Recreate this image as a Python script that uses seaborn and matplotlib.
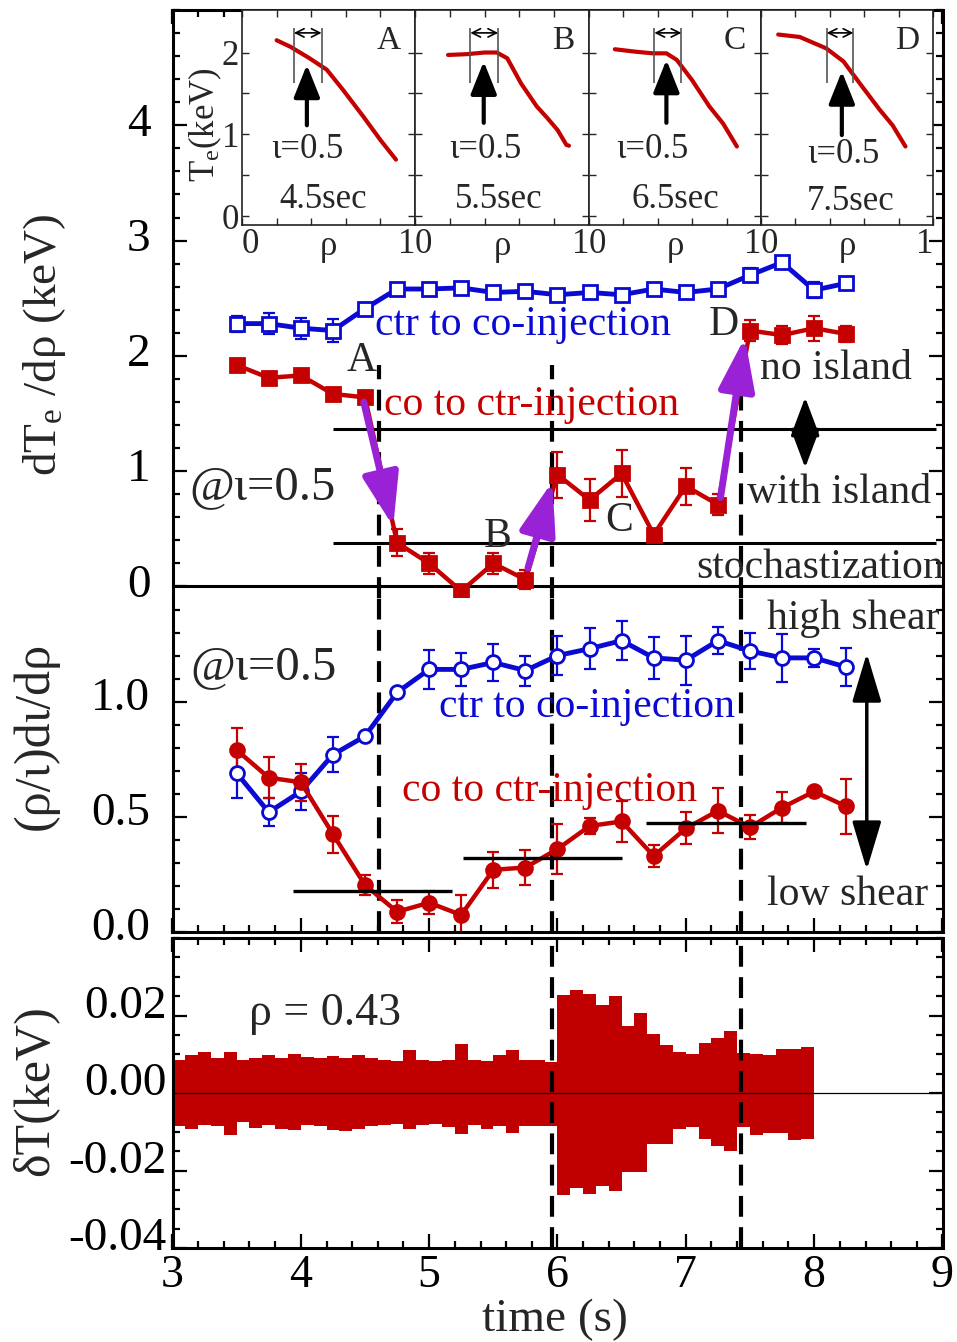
import numpy as np
import matplotlib
matplotlib.use("Agg")
import matplotlib.pyplot as plt
import matplotlib.transforms as mtransforms
from matplotlib.ticker import MultipleLocator, FixedLocator
import seaborn as sns

# ---------------- data ----------------
times = [3.5, 3.75, 4.0, 4.25, 4.5, 4.75, 5.0, 5.25, 5.5, 5.75,
         6.0, 6.25, 6.5, 6.75, 7.0, 7.25, 7.5, 7.75, 8.0, 8.25]

grad_ctr_co = [2.28, 2.28, 2.24, 2.22, 2.41, 2.58, 2.58, 2.59, 2.55, 2.56,
               2.53, 2.55, 2.53, 2.58, 2.55, 2.58, 2.70, 2.81, 2.57, 2.63]
grad_ctr_co_err = [0.07, 0.09, 0.09, 0.10, 0.05, 0.03, 0.05, 0.03, 0.02, 0.02,
                   0.02, 0.02, 0.02, 0.02, 0.02, 0.02, 0.06, 0.03, 0.07, 0.05]
grad_co_ctr = [1.92, 1.81, 1.83, 1.67, 1.64, 0.38, 0.20, -0.04, 0.20, 0.06,
               0.97, 0.75, 0.98, 0.45, 0.87, 0.71, 2.22, 2.18, 2.24, 2.19]
grad_co_ctr_err = [0.02, 0.02, 0.02, 0.02, 0.02, 0.12, 0.09, 0.03, 0.09, 0.08,
                   0.20, 0.18, 0.20, 0.04, 0.16, 0.09, 0.09, 0.08, 0.11, 0.07]

shear_ctr_co = [0.69, 0.52, 0.61, 0.77, 0.85, 1.04, 1.14, 1.14, 1.17, 1.135,
                1.20, 1.23, 1.265, 1.19, 1.18, 1.265, 1.22, 1.19, 1.19, 1.15]
shear_ctr_co_err = [0.11, 0.06, 0.08, 0.075, 0.0, 0.0, 0.083, 0.07, 0.08, 0.065,
                    0.083, 0.09, 0.083, 0.09, 0.107, 0.058, 0.078, 0.105, 0.04, 0.082]
shear_co_ctr = [0.79, 0.67, 0.65, 0.425, 0.204, 0.088, 0.127, 0.074, 0.27, 0.28,
                0.36, 0.46, 0.48, 0.33, 0.45, 0.526, 0.455, 0.54, 0.61, 0.545]
shear_co_ctr_err = [0.094, 0.09, 0.08, 0.08, 0.045, 0.05, 0.05, 0.085, 0.078, 0.078,
                    0.11, 0.035, 0.09, 0.047, 0.07, 0.098, 0.053, 0.067, 0.0, 0.12]

# island thresholds (top) and shear levels (middle)
grad_levels = [1.37, 0.38]
grad_levels_span = [4.25, 8.95]
shear_level_start = [3.94, 5.26, 6.69]
shear_level_end = [5.18, 6.50, 7.94]
shear_level_value = [0.178, 0.32, 0.475]
event_times = [4.61, 5.96, 7.43]

# delta T envelope, 0.1 s bins from 3.0 s
env_t = [3.0, 3.1, 3.2, 3.3, 3.4, 3.5, 3.6, 3.7, 3.8, 3.9,
         4.0, 4.1, 4.2, 4.3, 4.4, 4.5, 4.6, 4.7, 4.8, 4.9,
         5.0, 5.1, 5.2, 5.3, 5.4, 5.5, 5.6, 5.7, 5.8, 5.9,
         6.0, 6.1, 6.2, 6.3, 6.4, 6.5, 6.6, 6.7, 6.8, 6.9,
         7.0, 7.1, 7.2, 7.3, 7.4, 7.5, 7.6, 7.7, 7.8, 7.9, 8.0]
env_upper = [.0084, .0099, .0106, .0090, .0106, .0084, .0090, .0099, .0090, .0101,
             .0092, .0090, .0095, .0090, .0099, .0090, .0084, .0082, .0112, .0084,
             .0082, .0084, .0127, .0086, .0082, .0099, .0110, .0086, .0086, .0080,
             .0253, .0266, .0255, .0228, .0250, .0174, .0207, .0153, .0123, .0106,
             .0100, .0129, .0142, .0159, .0104, .0100, .0097, .0114, .0114, .0120, .0120]
env_lower = [-.0085, -.0094, -.0082, -.0085, -.0109, -.0076, -.0091, -.0082, -.0094, -.0095,
             -.0082, -.0085, -.0095, -.0098, -.0092, -.0085, -.0082, -.0080, -.0092, -.0083,
             -.0080, -.0089, -.0105, -.0082, -.0092, -.0085, -.0104, -.0085, -.0085, -.0086,
             -.0262, -.0245, -.0260, -.0240, -.0253, -.0203, -.0203, -.0131, -.0132, -.0093,
             -.0089, -.0119, -.0138, -.0149, -.0089, -.0108, -.0103, -.0103, -.0121, -.0119, -.0119]

# Te profiles of the insets
rho_A = [0.20, 0.28, 0.39, 0.49, 0.585, 0.70, 0.80, 0.89]
te_A = [2.15, 2.07, 1.93, 1.79, 1.54, 1.22, 0.93, 0.69]
rho_B = [0.19, 0.30, 0.40, 0.47, 0.53, 0.61, 0.70, 0.76, 0.82, 0.87, 0.885]
te_B = [1.97, 1.98, 2.00, 2.00, 1.93, 1.62, 1.34, 1.20, 1.05, 0.87, 0.86]
rho_C = [0.15, 0.27, 0.37, 0.45, 0.51, 0.60, 0.70, 0.78, 0.86]
te_C = [2.04, 2.01, 1.99, 1.99, 1.91, 1.66, 1.34, 1.13, 0.85]
rho_D = [0.10, 0.225, 0.38, 0.48, 0.575, 0.69, 0.765, 0.84]
te_D = [2.22, 2.19, 2.05, 1.89, 1.62, 1.30, 1.11, 0.85]
inset_letters = ["A", "B", "C", "D"]
inset_times = ["4.5sec", "5.5sec", "6.5sec", "7.5sec"]
iota_rho = [0.375, 0.395, 0.45, 0.47]
island_left = [0.30, 0.318, 0.38, 0.382]
island_right = [0.46, 0.478, 0.537, 0.537]

# ---------------- style ----------------
sns.set_style("ticks")
plt.rcParams["font.family"] = ["Liberation Serif", "DejaVu Serif"]
plt.rcParams["mathtext.fontset"] = "custom"
plt.rcParams["mathtext.rm"] = "Liberation Serif"
plt.rcParams["mathtext.it"] = "Liberation Serif:italic"
plt.rcParams["mathtext.bf"] = "Liberation Serif:bold"

BLUE = "#0a0ad2"
RED = "#c40000"
PURPLE = "#9a22d6"

W, H = 957, 1342
fig = plt.figure(figsize=(W / 100, H / 100), dpi=100)


def px_axes(x0, y0, x1, y1):
    return fig.add_axes([x0 / W, 1 - y1 / H, (x1 - x0) / W, (y1 - y0) / H])


ax_top = px_axes(172.5, 10, 942.5, 598)
ax_mid = px_axes(172.5, 598, 942.5, 932)
ax_bot = px_axes(172.5, 938, 942.5, 1248)


def style(ax):
    for s in ax.spines.values():
        s.set_linewidth(2.2)
        s.set_color("black")
    ax.tick_params(which="both", direction="in", top=True, right=True,
                   width=1.6, labelsize=34, colors="black")
    ax.tick_params(which="major", length=10)
    ax.tick_params(which="minor", length=5)
    ax.set_xlim(3, 9)
    ax.xaxis.set_major_locator(MultipleLocator(1))
    ax.xaxis.set_minor_locator(MultipleLocator(0.2))


for a in (ax_top, ax_mid, ax_bot):
    style(a)


def series(ax, y, err, color, marker, filled, lw, ms):
    ax.errorbar(times, y, yerr=err, fmt="none", ecolor=color, elinewidth=1.6,
                capsize=4, capthick=1.6, zorder=2)
    sns.lineplot(x=times, y=y, ax=ax, color=color, lw=lw, marker=marker,
                 markersize=ms, markerfacecolor=color if filled else "white",
                 markeredgecolor=color, markeredgewidth=2, zorder=3)


# ---------------- top panel ----------------
ax_top.set_ylim(-0.1, 5.0)
ax_top.yaxis.set_major_locator(FixedLocator([0, 1, 2, 3, 4]))
ax_top.yaxis.set_minor_locator(MultipleLocator(0.2))
ax_top.spines["bottom"].set_visible(False)
ax_top.tick_params(axis="x", which="both", bottom=False, labelbottom=False)
ax_top.tick_params(axis="y", pad=16)

ax_top.axhline(0, color="black", lw=2.2, zorder=1)
ax_top.hlines(grad_levels, grad_levels_span[0], grad_levels_span[1], color="black", lw=2.2, zorder=1)
for t in event_times:
    ax_top.axvline(t, ymin=0, ymax=(1.92 + 0.1) / 5.1, color="black", lw=3,
                   linestyle=(0, (5, 2.5)), zorder=1)
series(ax_top, grad_ctr_co, grad_ctr_co_err, BLUE, "s", False, 3.5, 10.5)
series(ax_top, grad_co_ctr, grad_co_ctr_err, RED, "s", True, 3.2, 10.5)

arrow_kw = dict(arrowstyle="-|>,head_length=1.6,head_width=0.55", color=PURPLE,
                lw=5, mutation_scale=20, shrinkA=0, shrinkB=0)
for (x0, y0), (x1, y1) in [((4.49, 1.60), (4.72, 0.52)),
                           ((5.77, 0.16), (5.96, 0.91)),
                           ((7.27, 0.77), (7.46, 2.16))]:
    ax_top.annotate("", xy=(x1, y1), xytext=(x0, y0), arrowprops=arrow_kw, zorder=4)

dbl_kw = dict(arrowstyle="<|-|>,head_length=1.2,head_width=0.45", color="black",
              lw=2.5, mutation_scale=20, shrinkA=0, shrinkB=0)
ax_top.annotate("", xy=(7.93, 1.03), xytext=(7.93, 1.64), arrowprops=dbl_kw)

txt = dict(fontsize=30, va="center")
ax_top.text(4.47, 1.96, "A", ha="center", **txt)
ax_top.text(5.53, 0.43, "B", ha="center", **txt)
ax_top.text(6.48, 0.57, "C", ha="center", **txt)
ax_top.text(7.295, 2.27, "D", ha="center", **txt)
ax_top.text(4.58, 2.27, "ctr to co-injection", ha="left", color=BLUE, **txt)
ax_top.text(4.645, 1.58, "co to ctr-injection", ha="left", color=RED, **txt)
ax_top.text(7.575, 1.89, "no island", ha="left", **txt)
ax_top.text(7.48, 0.81, "with island", ha="left", **txt)
ax_top.text(7.08, 0.16, "stochastization", ha="left", **txt)
ax_top.text(3.13, 0.86, "@ι=0.5", ha="left", fontsize=35, va="center")

ax_top.set_ylabel("dT$_\\mathrm{e}$ /dρ (keV)", fontsize=34, va="center")
ax_top.yaxis.set_label_coords((45 - 172.5) / 770, (598 - 345) / 588)

# ---------------- middle panel ----------------
ax_mid.set_ylim(0, 1.45)
ax_mid.yaxis.set_major_locator(FixedLocator([0, 0.5, 1.0]))
ax_mid.yaxis.set_minor_locator(MultipleLocator(0.1))
ax_mid.set_yticklabels(["0.0", "0.5", "1.0"])
ax_mid.spines["top"].set_visible(False)
ax_mid.tick_params(axis="x", which="both", top=False, labelbottom=False)
ax_mid.tick_params(axis="y", pad=16)

for t in event_times:
    ax_mid.axvline(t, color="black", lw=3, linestyle=(0, (5, 2.5)), zorder=1)
ax_mid.hlines(shear_level_value, shear_level_start, shear_level_end, color="black", lw=2.4, zorder=4)
series(ax_mid, shear_ctr_co, shear_ctr_co_err, BLUE, "o", False, 3.5, 10)
series(ax_mid, shear_co_ctr, shear_co_ctr_err, RED, "o", True, 3.2, 10)
ax_mid.annotate("", xy=(8.41, 0.27), xytext=(8.41, 1.21),
                arrowprops=dict(arrowstyle="<|-|>,head_length=1.5,head_width=0.45",
                                color="black", lw=2.5, mutation_scale=20, shrinkA=0, shrinkB=0))
ax_mid.text(3.14, 1.148, "@ι=0.5", ha="left", fontsize=35, va="center")
ax_mid.text(5.08, 0.98, "ctr to co-injection", ha="left", color=BLUE, **txt)
ax_mid.text(4.79, 0.615, "co to ctr-injection", ha="left", color=RED, **txt)
ax_mid.text(7.63, 1.36, "high shear", ha="left", **txt)
ax_mid.text(7.63, 0.16, "low shear", ha="left", **txt)

ax_mid.set_ylabel("(ρ/ι)dι/dρ", fontsize=36, va="center")
ax_mid.yaxis.set_label_coords((36 - 172.5) / 770, (932 - 736) / 334)

# ---------------- bottom panel ----------------
ax_bot.set_ylim(-0.04, 0.04)
ax_bot.yaxis.set_major_locator(FixedLocator([-0.04, -0.02, 0.0, 0.02]))
ax_bot.yaxis.set_minor_locator(MultipleLocator(0.005))
ax_bot.set_yticklabels(["-0.04", "-0.02", "0.00", "0.02"])
ax_bot.tick_params(axis="y", pad=4)
ax_bot.tick_params(axis="x", pad=5, labelsize=33)
ax_bot.fill_between(env_t, env_lower, env_upper, step="post", color="#c00000", lw=0, zorder=2)
ax_bot.axhline(0, color="black", lw=0.9, zorder=3)
for t in event_times[1:]:
    ax_bot.axvline(t, color="black", lw=3, linestyle=(0, (5, 2.5)), zorder=4)
ax_bot.text(3.6, 0.0205, "ρ = 0.43", ha="left", va="center", fontsize=33)
ax_bot.set_ylabel("δT(keV)", fontsize=36, va="center")
ax_bot.yaxis.set_label_coords((35 - 172.5) / 770, (1248 - 1091) / 310)
ax_bot.set_xlabel("time (s)", fontsize=34, va="bottom")
ax_bot.xaxis.set_label_coords(0.497, (1248 - 1341) / 310)


def shift_ylabels(ax, dy_px):
    off = mtransforms.ScaledTranslation(0, dy_px / 100.0, fig.dpi_scale_trans)
    for tick in ax.yaxis.get_major_ticks():
        tick.label1.set_transform(tick.label1.get_transform() + off)


shift_ylabels(ax_top, 6)
shift_ylabels(ax_mid, 8)
shift_ylabels(ax_bot, 14)

# ---------------- insets ----------------
inset_px = [(242, 415), (415, 589), (589, 761), (761, 933)]
profiles = [(rho_A, te_A), (rho_B, te_B), (rho_C, te_C), (rho_D, te_D)]
iota_label_y = [0.81, 0.81, 0.81, 0.75]
sec_label_y = [0.20, 0.20, 0.20, 0.18]
iota_label_x = [0.38, 0.405, 0.37, 0.477]
sec_label_x = [0.47, 0.48, 0.50, 0.52]
arrow_from = [1.11, 1.14, 1.14, 0.99]
arrow_to = [1.85, 1.89, 1.91, 1.77]

for i, (x0, x1) in enumerate(inset_px):
    ax = px_axes(x0, 10, x1, 225)
    rho, te = profiles[i]
    sns.lineplot(x=rho, y=te, ax=ax, color=RED, lw=3, sort=False)
    ax.set_xlim(0, 1)
    ax.set_ylim(-0.11, 2.52)
    for s in ax.spines.values():
        s.set_linewidth(1.2)
        s.set_color("#222222")
    ax.set_xticks([0, 0.2, 0.4, 0.6, 0.8, 1.0])
    ax.set_xticklabels(["0", "", "", "", "", "1"])
    ax.set_yticks([0, 0.5, 1.0, 1.5, 2.0])
    ax.set_yticklabels(["0", "", "1", "", "2"])
    ax.tick_params(which="both", direction="in", top=True, right=True, length=5,
                   width=1.0, labelsize=25, pad=2, labelleft=(i == 0))
    xl = ax.get_xticklabels()
    xl[0].set_ha("left")
    xl[-1].set_ha("right")
    ax.set_xlabel("ρ", fontsize=25, va="center")
    ax.xaxis.set_label_coords(0.5, -0.10)
    ax.set_ylabel("")
    if i == 0:
        ax.set_ylabel("T$_\\mathrm{e}$(keV)", fontsize=25, va="center")
        ax.yaxis.set_label_coords((205 - 242) / 173, (225 - 125) / 215)
    ax.vlines([island_left[i], island_right[i]], 1.63, 2.30, color="#555555", lw=1.2)
    ax.annotate("", xy=(island_left[i], 2.24), xytext=(island_right[i], 2.24),
                arrowprops=dict(arrowstyle="<->,head_length=0.5,head_width=0.25",
                                color="black", lw=1.2, mutation_scale=12,
                                shrinkA=0, shrinkB=0))
    ax.annotate("", xy=(iota_rho[i], arrow_to[i]), xytext=(iota_rho[i], arrow_from[i]),
                arrowprops=dict(arrowstyle="-|>,head_length=1.0,head_width=0.4",
                                color="black", lw=3, mutation_scale=20,
                                shrinkA=0, shrinkB=0))
    ax.text(iota_label_x[i], iota_label_y[i], "ι=0.5", ha="center", va="center", fontsize=25)
    ax.text(sec_label_x[i], sec_label_y[i], inset_times[i], ha="center", va="center", fontsize=25)
    ax.text(0.85, 2.14, inset_letters[i], ha="center", va="center", fontsize=24)

fig.savefig("out.png", dpi=100)
